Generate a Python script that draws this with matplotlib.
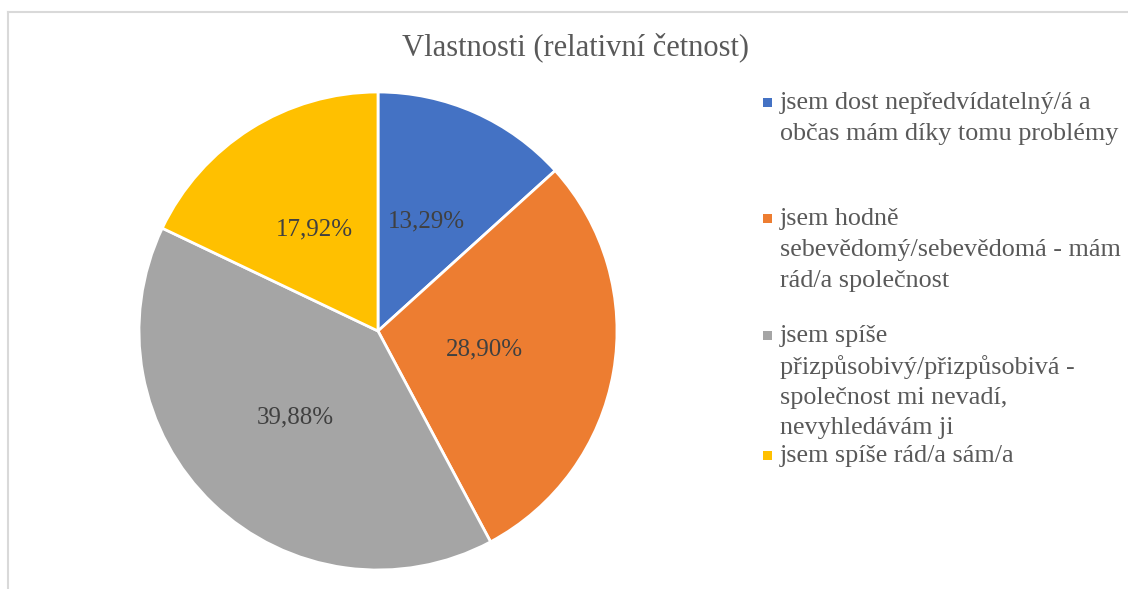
import numpy as np
import matplotlib
matplotlib.use("Agg")
import matplotlib.pyplot as plt
from matplotlib.lines import Line2D

categories = [
    "jsem dost nepředvídatelný/á a\nobčas mám díky tomu problémy",
    "jsem hodně\nsebevědomý/sebevědomá - mám\nrád/a společnost",
    "jsem spíše\npřizpůsobivý/přizpůsobivá -\nspolečnost mi nevadí,\nnevyhledávám ji",
    "jsem spíše rád/a sám/a",
]
values = [13.29, 28.90, 39.88, 17.92]
colors = ["#4472C4", "#ED7D31", "#A5A5A5", "#FFC000"]
title = "Vlastnosti (relativní četnost)"

plt.rcParams['font.family'] = ['Liberation Serif', 'DejaVu Serif']
text_color = "#595959"

W, H = 1128, 589
fig = plt.figure(figsize=(W/100, H/100), dpi=100)

# border lines (top and left)
fig.add_artist(Line2D([8/W, 1.0], [1-12/H, 1-12/H], color="#D9D9D9", lw=1.5, transform=fig.transFigure))
fig.add_artist(Line2D([8/W, 8/W], [0, 1-12/H], color="#D9D9D9", lw=1.5, transform=fig.transFigure))

cx, cy, r = 378, 331, 239
ax = fig.add_axes([(cx - r)/W, (H - cy - r)/H, 2*r/W, 2*r/H])
wedges, _ = ax.pie(values, colors=colors, startangle=90, counterclock=False,
                   radius=1, wedgeprops=dict(edgecolor="white", linewidth=2))
ax.set_xlim(-1, 1)
ax.set_ylim(-1, 1)
ax.set_aspect('equal')
ax.axis('off')

dists = [0.5, 0.45, 0.5, 0.5]
for w, v, d in zip(wedges, values, dists):
    ang = np.deg2rad((w.theta1 + w.theta2) / 2)
    ax.text(d*np.cos(ang), d*np.sin(ang), f"{v:.2f}".replace(".", ",") + "%",
            ha="center", va="center", fontsize=18, color="#404040")

fig.text(576/W, 1 - 47/H, title, ha="center", va="center", fontsize=22, color=text_color)

# legend
line_h = 30.8
starts = [103, 219, 336, 456]
for cat, col, y0 in zip(categories, colors, starts):
    lines = cat.split("\n")
    fig.patches.append(plt.Rectangle((763/W, 1 - (y0 + 4)/H), 9/W, 9/H,
                                     transform=fig.transFigure, facecolor=col, edgecolor="none"))
    for i, ln in enumerate(lines):
        fig.text(780/W, 1 - (y0 + i*line_h)/H, ln, ha="left", va="center",
                 fontsize=18.8, color=text_color)

fig.savefig("out.png", dpi=100, facecolor="white")
